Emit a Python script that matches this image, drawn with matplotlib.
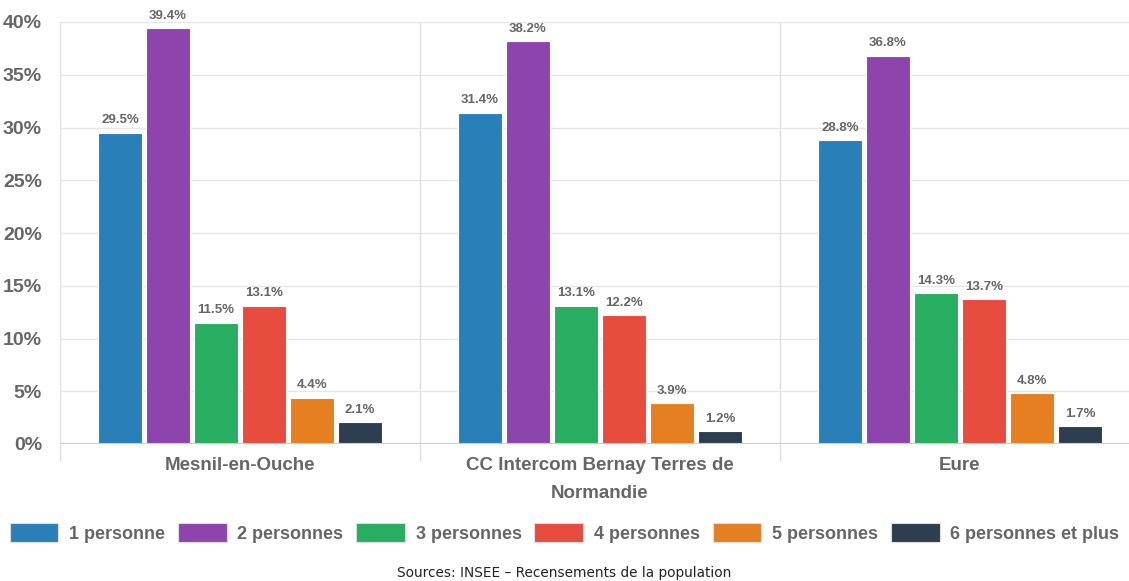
import numpy as np
import matplotlib
matplotlib.use("Agg")
import matplotlib.pyplot as plt
from matplotlib.patches import Patch

categories = ["Mesnil-en-Ouche", "CC Intercom Bernay Terres de\nNormandie", "Eure"]
series = ["1 personne", "2 personnes", "3 personnes", "4 personnes", "5 personnes", "6 personnes et plus"]
values = [
    [29.5, 31.4, 28.8],
    [39.4, 38.2, 36.8],
    [11.5, 13.1, 14.3],
    [13.1, 12.2, 13.7],
    [4.4, 3.9, 4.8],
    [2.1, 1.2, 1.7],
]
colors = ["#2980b9", "#8e44ad", "#27ae60", "#e74c3c", "#e67e22", "#2c3e50"]
yticks = [0, 5, 10, 15, 20, 25, 30, 35, 40]

plt.rcParams['font.family'] = ['Liberation Sans', 'DejaVu Sans']
grey = "#666666"

W, H = 1129, 581
fig = plt.figure(figsize=(W / 100, H / 100), dpi=100)
left_px, right_px, top_px, bot_px = 60, 1129, 22, 444
ax = fig.add_axes([left_px / W, (H - bot_px) / H, (right_px - left_px) / W, (bot_px - top_px) / H])

group_w = 360.0
ax.set_xlim(-0.5, -0.5 + (right_px - left_px) / group_w)
ax.set_ylim(0, 40)

x = np.arange(len(categories))
step = 48 / group_w
bw = 44 / group_w
for i, (s, vals) in enumerate(zip(series, values)):
    pos = x + (i - 2.5) * step
    ax.bar(pos, vals, width=bw, color=colors[i], edgecolor="white", linewidth=0.8, zorder=3)
    for px, v in zip(pos, vals):
        ax.text(px, v + 0.6, f"{v}%", ha="center", va="bottom", fontsize=9.5,
                fontweight="bold", color=grey, clip_on=False)

# axes styling
for sp in ax.spines.values():
    sp.set_visible(False)
ax.axhline(0, color="#cccccc", linewidth=1.5, zorder=4)
ax.set_yticks(yticks)
ax.set_yticklabels([f"{t}%" for t in yticks], fontsize=14, fontweight="bold", color=grey)
ax.tick_params(axis="y", length=0, pad=13)
ax.yaxis.grid(True, color="#e6e6e6", linewidth=1, zorder=0)

ax.set_xticks(x)
ax.set_xticklabels(categories, fontsize=13.5, fontweight="bold", color=grey, linespacing=1.85)
ax.tick_params(axis="x", which="major", length=0, pad=9)
ax.set_xticks([-0.5, 0.5, 1.5], minor=True)
ax.tick_params(axis="x", which="minor", length=12, color="#dddddd", width=1)
ax.xaxis.grid(True, which="minor", color="#dddddd", linewidth=1, zorder=0)

handles = [Patch(facecolor=c, edgecolor="#dddddd", linewidth=0.8) for c in colors]
leg = fig.legend(handles, series, loc="center", bbox_to_anchor=(0.5, (H - 533) / H), ncol=6,
                 frameon=False, handlelength=2.7, handleheight=1.2, handletextpad=0.6,
                 columnspacing=0.7, prop={"size": 13, "weight": "bold"})
for t in leg.get_texts():
    t.set_color(grey)

fig.text(0.5, (H - 573) / H, "Sources: INSEE \u2013 Recensements de la population",
         ha="center", va="center", fontsize=9.8, color="#222222", family="DejaVu Sans")

fig.savefig("out.png", dpi=100)
